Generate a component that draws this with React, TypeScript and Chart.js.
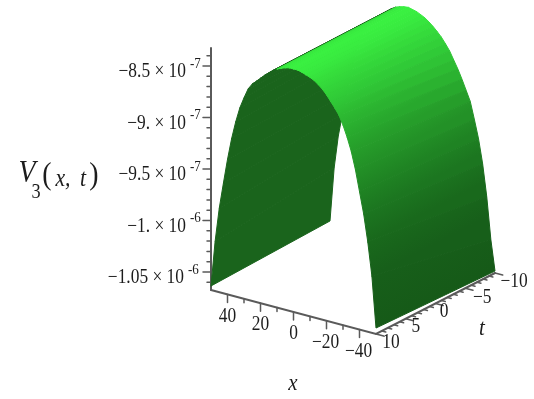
import React, { useEffect, useRef } from "react";
import { Chart, registerables } from "chart.js";

Chart.register(...registerables);

// x grid and the arch V3(x, t) at the two ends of the t range, in units of 1e-9
const xValues = [
  50, 47.5, 45, 42.5, 40, 37.5, 35, 32.5, 30, 27.5, 25, 22.5, 20, 17.5, 15, 12.5, 10, 7.5, 5, 2.5, 0,
  -2.5, -5, -7.5, -10, -12.5, -15, -17.5, -20, -22.5, -25, -27.5, -30, -32.5, -35, -37.5, -40, -42.5, -45, -47.5, -50,
];
const vAtTPlus10 = [
  -1063.6, -1019.0, -985.9, -960.7, -936.4, -915.1, -897.6, -883.0, -872.3, -862.6, -856.8, -853.0, -849.0, -845.1,
  -841.7, -838.3, -835.9, -834.0, -832.5, -831.5, -831.5, -831.5, -832.5, -834.0, -835.4, -837.4, -840.3, -843.7,
  -848.1, -853.4, -858.7, -864.6, -873.3, -884.0, -896.6, -913.1, -933.5, -953.9, -980.1, -1012.2, -1061.7,
];
const vAtTMinus10 = [
  -1059.7, -1007.3, -975.3, -952.9, -931.6, -912.1, -892.7, -878.2, -868.4, -861.6, -854.9, -851.5, -848.1, -844.2,
  -840.8, -837.4, -834.9, -833.5, -832.5, -832.0, -833.0, -834.0, -835.9, -837.9, -840.8, -844.2, -848.1, -852.4,
  -857.8, -863.6, -871.4, -879.1, -887.9, -897.6, -907.3, -923.8, -941.3, -964.6, -995.6, -1036.4, -1065.6,
];
const tRange = [10, -10];

const zTicks = [-850, -900, -950, -1000, -1050];
const zMinorTicks = [
  -1060, -1040, -1030, -1020, -1010, -990, -980, -970, -960, -940, -930, -920, -910, -890, -880, -870, -860, -840,
];
const zTickLabels = ["\u22128.5 \u00d7 10", "\u22129. \u00d7 10", "\u22129.5 \u00d7 10", "\u22121. \u00d7 10", "\u22121.05 \u00d7 10"];
const zTickExponents = ["-7", "-7", "-7", "-6", "-6"];
const xTicks = [40, 20, 0, -20, -40];
const xMinorTicks = [30, 10, -10, -30];
const xTickLabels = ["40", "20", "0", "\u221220", "\u221240"];
const tTicks = [10, 5, 0, -5, -10];
const tMinorTicks = [9, 8, 7, 6, 4, 3, 2, 1, -1, -2, -3, -4, -6, -7, -8, -9];
const tTickLabels = ["10", "5", "0", "\u22125", "\u221210"];

// green level at each lit grid line, from the ridge edge down the far slope
const litGreen = [228, 235, 238, 240, 240, 238, 236, 233, 229, 224, 219, 214, 208, 202, 195, 187, 178, 168, 157, 145, 131, 118, 105, 95, 90];
const UNDERSIDE = "rgb(26,100,28)";
const AXIS = "#5a5a5a";
const INK = "#1c1c1c";
const SERIF = '"Liberation Serif"';

const Z_MIN = -1067.5;
const Z_MAX = -832.5;
const PX_PER_V = 1 / 0.971;
const project = (x: number, t: number, v: number) => ({
  x: 211 + (50 - x) * 1.65 + (10 - t) * 5.95,
  y: 290 + (50 - x) * 0.44 - (10 - t) * 3.05 - (v - Z_MIN) * PX_PER_V,
});

const polygon = (pts: { x: number; y: number }[], color: any, width = 1, fill = true) => ({
  data: pts,
  showLine: true,
  pointRadius: 0,
  borderColor: color,
  backgroundColor: color,
  borderWidth: width,
  fill: fill ? "shape" : false,
  tension: 0,
  borderCapStyle: "round",
});

const stripPoints = (i: number) => [
  project(xValues[i], tRange[0], vAtTPlus10[i]),
  project(xValues[i + 1], tRange[0], vAtTPlus10[i + 1]),
  project(xValues[i + 1], tRange[1], vAtTMinus10[i + 1]),
  project(xValues[i], tRange[1], vAtTMinus10[i]),
  project(xValues[i], tRange[0], vAtTPlus10[i]),
];

const shade = (g: number) => `rgb(${Math.round(g * 0.24)},${g},${Math.round(g * 0.27)})`;

// across-strip gradient, so the lit slope has no visible bands
const stripGradient = (pts: { x: number; y: number }[], from: number, to: number) => {
  const nx = 0.456;
  const ny = 0.89;
  return (c: any) => {
    const a = pts[0];
    const b = pts[1];
    const d = (b.x - a.x) * nx + (b.y - a.y) * ny;
    const grad = c.chart.ctx.createLinearGradient(a.x, a.y, a.x + nx * d, a.y + ny * d);
    grad.addColorStop(0, shade(from));
    grad.addColorStop(1, shade(to));
    return grad;
  };
};

function buildDatasets() {
  const list: any[] = [];
  // axes
  const corner = [project(50, 10, Z_MIN), project(-50, 10, Z_MIN), project(-50, -10, Z_MIN)];
  list.push(polygon(corner, AXIS, 2, false));
  list.push(polygon([project(50, 10, Z_MAX), corner[0]], AXIS, 2, false));
  zMinorTicks.forEach((v) => {
    const p = project(50, 10, v);
    list.push(polygon([p, { x: p.x - 4, y: p.y }], AXIS, 1.5, false));
  });
  zTicks.forEach((v) => {
    const p = project(50, 10, v);
    list.push(polygon([p, { x: p.x - 8, y: p.y }], AXIS, 1.5, false));
  });
  xMinorTicks.forEach((x) => {
    const p = project(x, 10, Z_MIN);
    list.push(polygon([p, { x: p.x, y: p.y + 4 }], AXIS, 1.5, false));
  });
  xTicks.forEach((x) => {
    const p = project(x, 10, Z_MIN);
    list.push(polygon([p, { x: p.x, y: p.y + 8 }], AXIS, 1.5, false));
  });
  tMinorTicks.forEach((t) => {
    const p = project(-50, t, Z_MIN);
    list.push(polygon([p, { x: p.x + 3.8, y: p.y + 1 }], AXIS, 1.5, false));
  });
  tTicks.forEach((t) => {
    const p = project(-50, t, Z_MIN);
    list.push(polygon([p, { x: p.x + 7.7, y: p.y + 2 }], AXIS, 1.5, false));
  });
  // surface: underside strips first, lit strips over them
  const ridge = xValues.indexOf(10);
  for (let i = 0; i < ridge; i++) list.push(polygon(stripPoints(i), UNDERSIDE));
  for (let i = ridge; i < xValues.length - 1; i++) {
    const pts = stripPoints(i);
    list.push(polygon(pts, stripGradient(pts, litGreen[i - ridge], litGreen[i - ridge + 1])));
  }
  return list.map((d, i) => ({ ...d, order: list.length - i }));
}

const put = (ctx: CanvasRenderingContext2D, text: string, x: number, y: number, font: string, align: CanvasTextAlign = "center", sx = 0.87) => {
  ctx.save();
  ctx.translate(x, y);
  ctx.scale(sx, 1);
  ctx.font = font;
  ctx.textAlign = align;
  ctx.textBaseline = "middle";
  ctx.fillStyle = INK;
  ctx.fillText(text, 0, 0);
  ctx.restore();
};

const tLabelOffsets = [[15, 9], [10, 8], [8.5, 8.5], [17, 9], [19, 9]];

const labelsPlugin = {
  id: "axisText",
  afterDatasetsDraw(chart: any) {
    const ctx = chart.ctx as CanvasRenderingContext2D;
    const big = `20px ${SERIF}`;
    zTicks.forEach((v, i) => {
      const p = project(50, 10, v);
      const last = i === zTicks.length - 1;
      put(ctx, zTickLabels[i], last ? 184 : 186, p.y + 6, big, "right");
      put(ctx, zTickExponents[i], last ? 188 : 190, p.y - 2, `15px ${SERIF}`, "left");
    });
    xTicks.forEach((x, i) => {
      const p = project(x, 10, Z_MIN);
      put(ctx, xTickLabels[i], p.x + (x < 0 ? -1 : 0), p.y + 22, big);
    });
    tTicks.forEach((t, i) => {
      const p = project(-50, t, Z_MIN);
      put(ctx, tTickLabels[i], p.x + tLabelOffsets[i][0], p.y + tLabelOffsets[i][1], big);
    });
    put(ctx, "t", 482, 329, `italic 24px ${SERIF}`);
    put(ctx, "x", 293, 384, `italic 24px ${SERIF}`);
    put(ctx, "V", 27, 174, `italic 32px ${SERIF}`);
    put(ctx, "3", 36, 192, `21px ${SERIF}`);
    put(ctx, "(", 47, 176, `32px ${SERIF}`);
    put(ctx, "x,", 63, 179, `italic 25px ${SERIF}`);
    put(ctx, "t", 83, 179, `italic 25px ${SERIF}`);
    put(ctx, ")", 94, 176, `32px ${SERIF}`);
  },
};

export default function App() {
  const ref = useRef<HTMLCanvasElement>(null);
  useEffect(() => {
    const chart = new Chart(ref.current as HTMLCanvasElement, {
      type: "scatter",
      data: { datasets: buildDatasets() },
      options: {
        animation: false,
        responsive: false,
        layout: { padding: 0 },
        plugins: { legend: { display: false }, tooltip: { enabled: false }, title: { display: false } },
        scales: {
          x: { type: "linear", min: 0, max: 534, display: false },
          y: { type: "linear", min: 0, max: 399, reverse: true, display: false },
        },
      },
      plugins: [labelsPlugin],
    } as any);
    return () => chart.destroy();
  }, []);
  return (
    <div style={{ position: "fixed", left: 0, top: 0, width: 534, height: 399, background: "#fff" }}>
      <canvas ref={ref} width={534} height={399} style={{ display: "block", filter: "blur(0.4px)" }} />
    </div>
  );
}
